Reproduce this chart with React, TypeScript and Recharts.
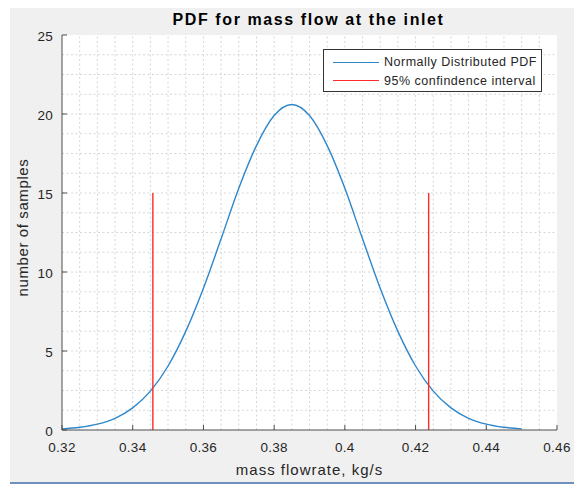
import React from "react";
import {
  ComposedChart,
  Line,
  XAxis,
  YAxis,
  ReferenceLine,
  Legend,
} from "recharts";

// values
const massFlow = [
  0.32, 0.325, 0.33, 0.335, 0.34, 0.345, 0.35, 0.355, 0.36, 0.365, 0.37, 0.375,
  0.38, 0.385, 0.39, 0.395, 0.4, 0.405, 0.41, 0.415, 0.42, 0.425, 0.43, 0.435,
  0.44, 0.445, 0.45,
];
const pdfValues = [
  0.07, 0.17, 0.37, 0.74, 1.4, 2.46, 4.05, 6.24, 8.97, 12.1, 15.3, 18.0, 19.9,
  20.6, 19.9, 18.0, 15.3, 12.1, 8.97, 6.24, 4.05, 2.46, 1.4, 0.74, 0.37, 0.17,
  0.07,
];
const ciLower = 0.3457;
const ciUpper = 0.4237;
const ciHeight = 15;

const xTicks = [0.32, 0.34, 0.36, 0.38, 0.4, 0.42, 0.44, 0.46];
const yTicks = [0, 5, 10, 15, 20, 25];
const xGrid = [
  0.325, 0.33, 0.335, 0.34, 0.345, 0.35, 0.355, 0.36, 0.365, 0.37, 0.375, 0.38,
  0.385, 0.39, 0.395, 0.4, 0.405, 0.41, 0.415, 0.42, 0.425, 0.43, 0.435, 0.44,
  0.445, 0.45, 0.455,
];
const yGrid = [
  1.25, 2.5, 3.75, 5, 6.25, 7.5, 8.75, 10, 11.25, 12.5, 13.75, 15, 16.25, 17.5,
  18.75, 20, 21.25, 22.5, 23.75,
];
const legendItems = [
  { name: "Normally Distributed PDF", color: "#2f87cb" },
  { name: "95% confindence interval", color: "#ff2a2a" },
];

const pdfData = massFlow.map((x, i) => ({ x, y: pdfValues[i] }));
const lowerData = [
  { x: ciLower, y: 0 },
  { x: ciLower, y: ciHeight },
];
const upperData = [
  { x: ciUpper, y: 0 },
  { x: ciUpper, y: ciHeight },
];

const FONT = "'Liberation Sans', Arial, Helvetica, sans-serif";
const AXIS = "#4d4d4d";
const TEXT = "#262626";
const GRID = "#d6d6d6";

const BottomTick = ({ x, y, payload }: any) => (
  <g>
    <line x1={x} x2={x} y1={y} y2={y - 5} stroke={AXIS} />
    <text
      x={x}
      y={y + 22}
      textAnchor="middle"
      fontSize={13.5}
      letterSpacing={0.3}
      fill={TEXT}
      fontFamily={FONT}
    >
      {payload.value}
    </text>
  </g>
);

const TopTick = ({ x, y }: any) => <line x1={x} x2={x} y1={y} y2={y + 5} stroke={AXIS} />;

const LeftTick = ({ x, y, payload }: any) => (
  <g>
    <line x1={x} x2={x + 5} y1={y} y2={y} stroke={AXIS} />
    <text
      x={x - 9}
      y={y + 6}
      textAnchor="end"
      fontSize={13.5}
      letterSpacing={0.3}
      fill={TEXT}
      fontFamily={FONT}
    >
      {payload.value}
    </text>
  </g>
);

const RightTick = ({ x, y }: any) => <line x1={x} x2={x - 5} y1={y} y2={y} stroke={AXIS} />;

const XLabel = ({ viewBox }: any) => (
  <text
    x={viewBox.x + viewBox.width / 2}
    y={viewBox.y + 45}
    textAnchor="middle"
    fontSize={15}
    letterSpacing={1}
    fill={TEXT}
    fontFamily={FONT}
  >
    mass flowrate, kg/s
  </text>
);

const YLabel = ({ viewBox }: any) => {
  const cx = 28;
  const cy = viewBox.y + viewBox.height / 2 - 5;
  return (
    <text
      x={cx}
      y={cy}
      transform={`rotate(-90, ${cx}, ${cy})`}
      textAnchor="middle"
      fontSize={15}
      letterSpacing={0.6}
      fill={TEXT}
      fontFamily={FONT}
    >
      number of samples
    </text>
  );
};

const LegendBox = () => (
  <div
    style={{
      width: 219,
      height: 43,
      background: "#fff",
      border: "1px solid #333",
      fontFamily: FONT,
      fontSize: 12.5,
      letterSpacing: 0.5,
      color: TEXT,
      paddingTop: 3,
      boxSizing: "border-box",
    }}
  >
    {legendItems.map((it) => (
      <div key={it.name} style={{ display: "flex", alignItems: "center", height: 18.5 }}>
        <span
          style={{
            display: "inline-block",
            width: 46,
            height: 0,
            borderTop: `1.5px solid ${it.color}`,
            marginLeft: 9,
            marginRight: 5,
          }}
        />
        <span>{it.name}</span>
      </div>
    ))}
  </div>
);

export default function App() {
  return (
    <div
      style={{
        position: "absolute",
        left: 0,
        top: 0,
        width: 574,
        height: 485,
        background: "#fff",
        overflow: "hidden",
      }}
    >
      <div
        style={{
          position: "absolute",
          left: 10,
          top: 8,
          width: 564,
          height: 474,
          background: "#f0f0f0",
          borderBottom: "2px solid #6f8fbf",
        }}
      />
      <div
        style={{
          position: "absolute",
          left: 0,
          top: 11,
          width: 574,
          textAlign: "center",
          paddingLeft: 43,
          boxSizing: "border-box",
          fontFamily: FONT,
          fontWeight: "bold",
          fontSize: 16,
          letterSpacing: 1.6,
          color: "#000",
        }}
      >
        PDF for mass flow at the inlet
      </div>
      <div style={{ position: "absolute", left: 0, top: 0 }}>
        <ComposedChart
          width={574}
          height={485}
          margin={{ top: 35, right: 17, bottom: 25, left: 12 }}
        >
          <rect x={62} y={35} width={495} height={395} fill="#fff" />
          <XAxis
            dataKey="x"
            type="number"
            domain={[0.32, 0.46]}
            ticks={xTicks}
            interval={0}
            allowDataOverflow
            height={30}
            tickSize={0}
            tickMargin={0}
            tickLine={false}
            stroke={AXIS}
            tick={<BottomTick />}
            label={<XLabel />}
          />
          <XAxis
            xAxisId="top"
            orientation="top"
            dataKey="x"
            type="number"
            domain={[0.32, 0.46]}
            ticks={xTicks}
            interval={0}
            allowDataOverflow
            height={0}
            tickSize={0}
            tickMargin={0}
            tickLine={false}
            stroke={AXIS}
            tick={<TopTick />}
          />
          <YAxis
            type="number"
            domain={[0, 25]}
            ticks={yTicks}
            interval={0}
            allowDataOverflow
            width={50}
            tickSize={0}
            tickMargin={0}
            tickLine={false}
            stroke={AXIS}
            tick={<LeftTick />}
            label={<YLabel />}
          />
          <YAxis
            yAxisId="right"
            orientation="right"
            type="number"
            domain={[0, 25]}
            ticks={yTicks}
            interval={0}
            allowDataOverflow
            width={0}
            tickSize={0}
            tickMargin={0}
            tickLine={false}
            stroke={AXIS}
            tick={<RightTick />}
          />
          {xGrid.map((v) => (
            <ReferenceLine key={"gx" + v} x={v} stroke={GRID} strokeDasharray="2 2.5" />
          ))}
          {yGrid.map((v) => (
            <ReferenceLine key={"gy" + v} y={v} stroke={GRID} strokeDasharray="2 2.5" />
          ))}
          <Line
            data={pdfData}
            dataKey="y"
            type="monotone"
            stroke="#2f87cb"
            strokeWidth={1.4}
            dot={false}
            isAnimationActive={false}
            name="Normally Distributed PDF"
          />
          <Line
            data={lowerData}
            dataKey="y"
            type="linear"
            stroke="#ff2a2a"
            strokeWidth={1.4}
            dot={false}
            isAnimationActive={false}
            name="95% confindence interval"
          />
          <Line
            data={upperData}
            dataKey="y"
            type="linear"
            stroke="#ff2a2a"
            strokeWidth={1.4}
            dot={false}
            isAnimationActive={false}
            legendType="none"
          />
          <Legend
            layout="horizontal"
            verticalAlign="middle"
            align="center"
            wrapperStyle={{ left: 323, top: 49, width: 219, height: 43 }}
            content={<LegendBox />}
          />
        </ComposedChart>
      </div>
    </div>
  );
}
